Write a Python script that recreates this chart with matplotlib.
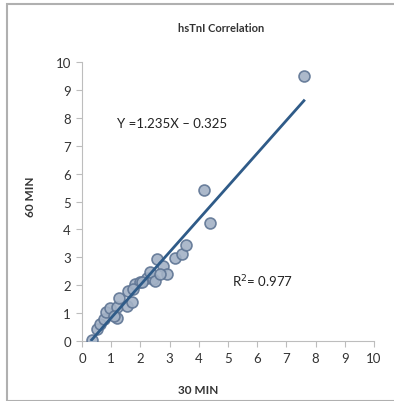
import matplotlib.pyplot as plt
import numpy as np
from matplotlib.patches import Rectangle

# hsTnI values, 30 min vs 60 min
x30 = [0.33, 0.5, 0.62, 0.77, 0.81, 0.96, 1.19, 1.25, 1.19, 1.08, 1.53, 1.71,
       1.59, 1.82, 1.99, 2.22, 2.44, 2.05, 2.34, 2.51, 2.57, 2.79, 2.91, 2.68,
       3.2, 3.43, 3.57, 1.76, 4.17, 4.37, 7.6]
y60 = [0.05, 0.43, 0.61, 0.79, 1.05, 1.17, 1.21, 1.53, 0.81, 0.91, 1.27, 1.39,
       1.8, 2.04, 2.1, 2.25, 2.22, 2.1, 2.46, 2.16, 2.94, 2.7, 2.4, 2.4,
       2.96, 3.12, 3.44, 1.86, 5.41, 4.22, 9.5]

eq_text = "Y =1.235X \u2013 0.325"
r2_text = "R$^2$= 0.977"

plt.rcParams['font.family'] = ['Lato', 'DejaVu Sans']

fig = plt.figure(figsize=(3.94, 4.02), dpi=100)
ax = fig.add_axes([82/394, 1 - 342/402, 292/394, 279/402])

# outer chart border
fig.patches.append(Rectangle((7/394, 0.0), 1.2, 1 - 5/402, transform=fig.transFigure,
                             fill=False, edgecolor='#b0b0b0', linewidth=1.5))

ax.scatter(x30, y60, s=62, facecolor='#a3b2c6', edgecolor='#5f7594',
           linewidth=1.2, alpha=0.9, zorder=3)

# trendline over the markers
x = np.array(x30)
y = np.array(y60)
m, b = np.polyfit(x, y, 1)
xs = np.array([x.min(), x.max()])
ax.plot(xs, m * xs + b, color='#2f5b88', linewidth=2, zorder=4)

ax.set_xlim(0, 10)
ax.set_ylim(0, 10)
ax.set_xticks(range(0, 11))
ax.set_yticks(range(0, 11))
for s in ['top', 'right']:
    ax.spines[s].set_visible(False)
for s in ['left', 'bottom']:
    ax.spines[s].set_color('#bdbdbd')
ax.tick_params(colors='#bdbdbd', labelcolor='#333333', labelsize=9.5,
               length=4, direction='out', pad=4)

ax.text(1.2, 7.8, eq_text, fontsize=9.5, color='#222222', va='center')
ax.text(5.15, 2.15, r2_text, fontsize=9.5, color='#222222', va='center')

fig.text(221/394, 1 - 28/402, "hsTnI Correlation", ha='center', va='center',
         fontsize=8, fontweight='bold', color='#333333')
fig.text(198/394, 1 - 391/402, "30 MIN", ha='center', va='center',
         fontsize=8.5, fontweight='bold', color='#333333')
fig.text(31/394, 1 - 197/402, "60 MIN", ha='center', va='center', rotation=90,
         fontsize=8.5, fontweight='bold', color='#333333')

fig.savefig("out.png", dpi=100)
